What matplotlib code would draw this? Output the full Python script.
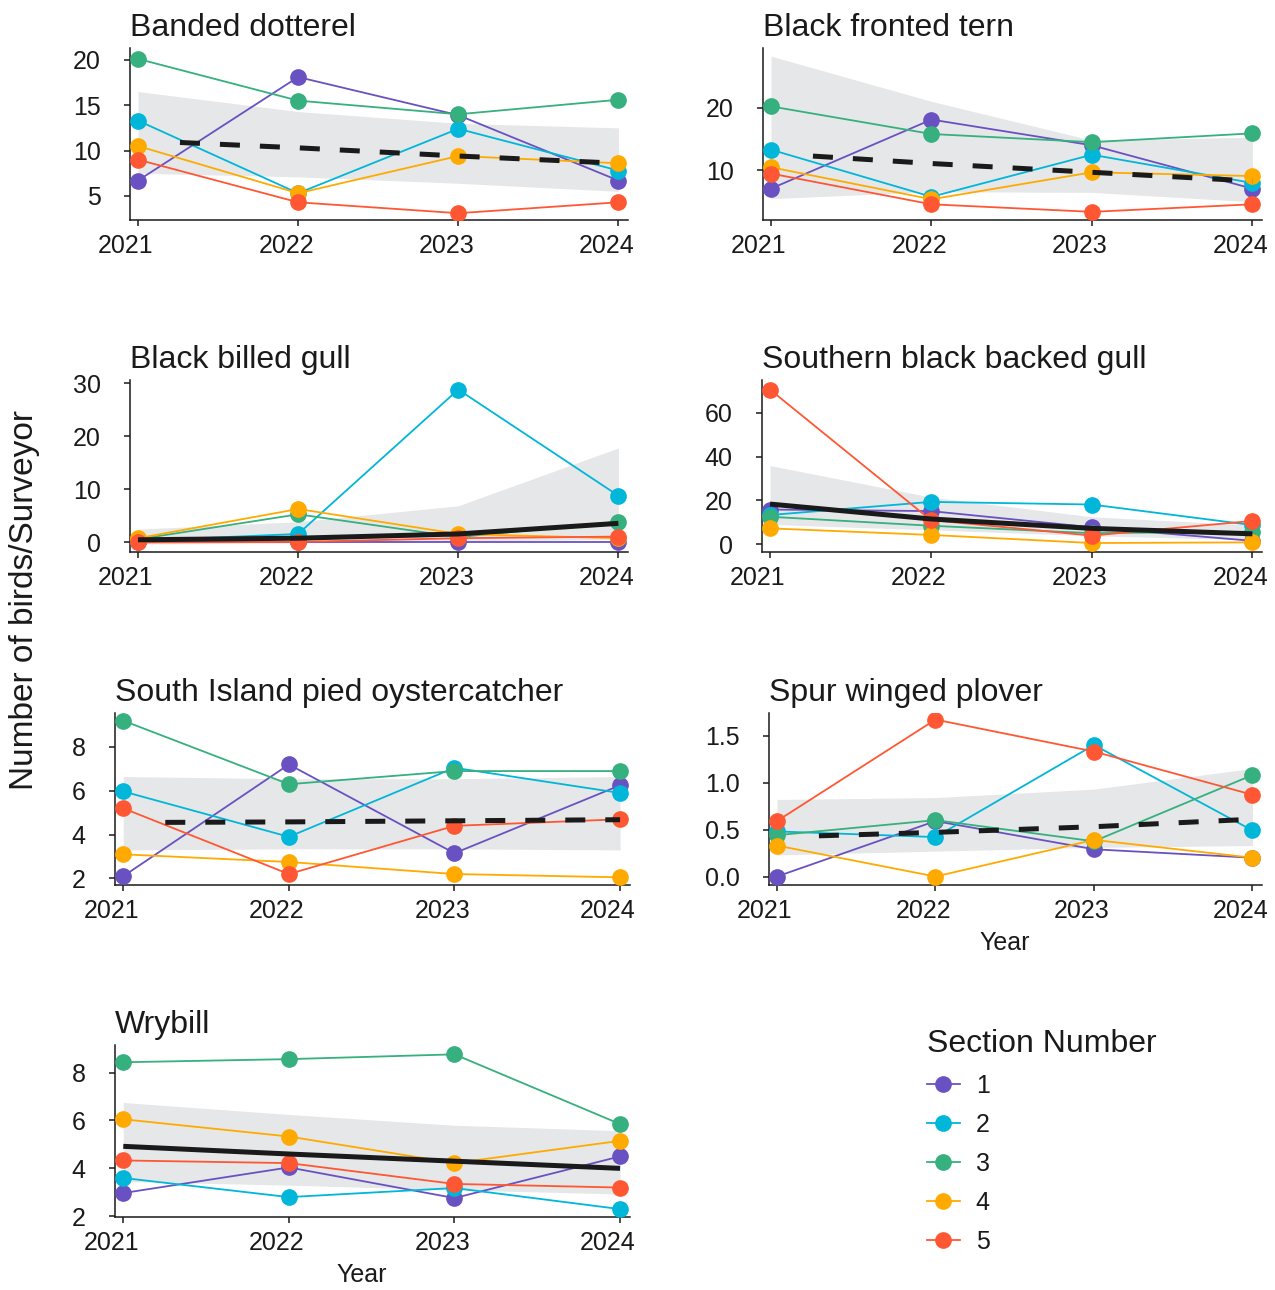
import matplotlib
matplotlib.use("Agg")
import matplotlib.pyplot as plt
from matplotlib.lines import Line2D
from matplotlib.ticker import FixedLocator, FormatStrFormatter
from matplotlib.transforms import ScaledTranslation

plt.rcParams['font.family'] = ['Liberation Sans', 'DejaVu Sans']

years = [2021, 2022, 2023, 2024]
sections = ['1', '2', '3', '4', '5']
section_colors = ['#6A51C1', '#00B6D9', '#35B07E', '#FFAA00', '#FF5733']

# mean birds per surveyor, one row per section (1..5), one value per year
banded_dotterel = [[6.7, 18.1, 13.9, 6.7],
                   [13.3, 5.3, 12.4, 7.8],
                   [20.1, 15.5, 14.0, 15.6],
                   [10.5, 5.3, 9.4, 8.6],
                   [9.0, 4.3, 3.1, 4.3]]
banded_dotterel_fit = [11.1, 10.3, 9.4, 8.6]
banded_dotterel_lo = [7.5, 7.1, 6.4, 5.5]
banded_dotterel_hi = [16.5, 14.3, 13.0, 12.5]

black_fronted_tern = [[7.1, 18.1, 14.0, 7.1],
                      [13.3, 5.8, 12.5, 8.0],
                      [20.2, 15.8, 14.5, 15.9],
                      [10.5, 5.4, 9.7, 9.1],
                      [9.5, 4.6, 3.4, 4.6]]
black_fronted_tern_fit = [12.7, 11.1, 9.7, 8.3]
black_fronted_tern_lo = [5.5, 6.6, 6.5, 5.0]
black_fronted_tern_hi = [28.2, 21.0, 14.8, 15.3]

black_billed_gull = [[0.0, 0.0, 0.0, 0.0],
                     [0.3, 1.6, 28.8, 8.8],
                     [0.6, 5.3, 1.0, 3.9],
                     [0.8, 6.3, 1.6, 0.8],
                     [0.0, 0.1, 0.8, 1.1]]
black_billed_gull_fit = [0.5, 0.8, 1.6, 3.6]
black_billed_gull_lo = [-0.3, -0.1, 0.2, 0.6]
black_billed_gull_hi = [2.5, 3.9, 6.9, 17.8]

sbb_gull = [[15.8, 15.1, 7.7, 1.5],
            [13.3, 19.3, 18.1, 8.7],
            [12.5, 8.4, 5.0, 5.7],
            [7.2, 4.2, 0.5, 0.8],
            [70.6, 11.0, 3.9, 10.6]]
sbb_gull_fit = [18.3, 11.5, 7.2, 4.7]
sbb_gull_lo = [9.0, 6.5, 3.8, 2.0]
sbb_gull_hi = [35.9, 21.5, 12.5, 8.7]

sipo = [[2.1, 7.2, 3.15, 6.25],
        [5.97, 3.9, 7.05, 5.9],
        [9.2, 6.3, 6.9, 6.9],
        [3.1, 2.75, 2.2, 2.05],
        [5.2, 2.2, 4.4, 4.7]]
sipo_fit = [4.55, 4.58, 4.63, 4.68]
sipo_lo = [3.3, 3.35, 3.35, 3.3]
sipo_hi = [6.65, 6.55, 6.55, 6.65]

spur_winged_plover = [[0.0, 0.59, 0.29, 0.2],
                      [0.48, 0.42, 1.4, 0.49],
                      [0.44, 0.6, 0.375, 1.08],
                      [0.33, 0.0, 0.39, 0.2],
                      [0.59, 1.67, 1.33, 0.87]]
spur_winged_plover_fit = [0.42, 0.47, 0.53, 0.61]
spur_winged_plover_lo = [0.23, 0.27, 0.31, 0.33]
spur_winged_plover_hi = [0.82, 0.84, 0.93, 1.15]

wrybill = [[2.97, 4.04, 2.76, 4.5],
           [3.6, 2.8, 3.18, 2.3],
           [8.43, 8.56, 8.76, 5.85],
           [6.05, 5.33, 4.22, 5.15],
           [4.33, 4.22, 3.35, 3.2]]
wrybill_fit = [4.92, 4.6, 4.3, 4.0]
wrybill_lo = [3.45, 3.3, 3.1, 2.93]
wrybill_hi = [6.75, 6.25, 5.8, 5.57]

W, H = 1275, 1290

def px_box(l, t, r, b):
    return [l / W, 1 - b / H, (r - l) / W, (b - t) / H]

def gap_first(on, off, n=16):
    # dash sequence that opens with one whole empty period before the first dash
    seq = [on, off] * n
    seq[-1] = off + on + off
    return (sum(seq) - (on + off + 0.4), seq)

# title, counts, fit, lo, hi, significant trend, yticks, ylim, box, fmt, xlabel
panels = [
    ("Banded dotterel", banded_dotterel, banded_dotterel_fit, banded_dotterel_lo, banded_dotterel_hi,
     False, [5, 10, 15, 20], (2.35, 21.3), (130, 48, 628, 220), '%d', False),
    ("Black fronted tern", black_fronted_tern, black_fronted_tern_fit, black_fronted_tern_lo, black_fronted_tern_hi,
     False, [10, 20], (2.1, 29.5), (763, 48, 1262, 220), '%d', False),
    ("Black billed gull", black_billed_gull, black_billed_gull_fit, black_billed_gull_lo, black_billed_gull_hi,
     True, [0, 10, 20, 30], (-1.8, 30.6), (130, 380, 628, 552), '%d', False),
    ("Southern black backed gull", sbb_gull, sbb_gull_fit, sbb_gull_lo, sbb_gull_hi,
     True, [0, 20, 40, 60], (-3.6, 75), (762, 380, 1262, 552), '%d', False),
    ("South Island pied oystercatcher", sipo, sipo_fit, sipo_lo, sipo_hi,
     False, [2, 4, 6, 8], (1.7, 9.55), (115, 713, 630, 885), '%d', False),
    ("Spur winged plover", spur_winged_plover, spur_winged_plover_fit, spur_winged_plover_lo, spur_winged_plover_hi,
     False, [0.0, 0.5, 1.0, 1.5], (-0.09, 1.74), (769, 713, 1262, 885), '%.1f', True),
    ("Wrybill", wrybill, wrybill_fit, wrybill_lo, wrybill_hi,
     True, [2, 4, 6, 8], (1.97, 9.15), (115, 1045, 630, 1217), '%d', True),
]

ink = '#1A1A1A'
fig = plt.figure(figsize=(W / 100, H / 100), dpi=100)
# year labels sit a little to the left of their ticks
nudge = ScaledTranslation(-12 / 100, 0, fig.dpi_scale_trans)

for title, counts, fit, lo, hi, solid, yticks, ylim, box, fmt, xlab in panels:
    ax = fig.add_axes(px_box(*box))
    ax.fill_between(years, lo, hi, color='#E6E7E8', lw=0, zorder=1)
    for vals, col in zip(counts, section_colors):
        ax.plot(years, vals, color=col, lw=1.3, marker='o', ms=11, zorder=3)
    if solid:
        ax.plot(years, fit, color=ink, lw=3.6, solid_capstyle='butt', zorder=4)
    else:
        ax.plot(years, fit, color=ink, lw=3.6, dash_capstyle='butt',
                linestyle=gap_first(4.0, 4.0), zorder=4)

    ax.set_xlim(2020.95, 2024.06)
    ax.set_ylim(*ylim)
    ax.xaxis.set_major_locator(FixedLocator(years))
    ax.yaxis.set_major_locator(FixedLocator(yticks))
    ax.yaxis.set_major_formatter(FormatStrFormatter(fmt))
    ax.set_title(title, loc='left', fontsize=23, color=ink, pad=9)
    for s in ['top', 'right']:
        ax.spines[s].set_visible(False)
    for s in ['left', 'bottom']:
        ax.spines[s].set_linewidth(1.1)
        ax.spines[s].set_color(ink)
    ax.tick_params(axis='both', labelsize=18, colors=ink, width=1.1, length=4)
    ax.tick_params(axis='x', pad=6)
    ax.tick_params(axis='y', pad=17)
    for tick in ax.xaxis.get_major_ticks():
        tick.label1.set_transform(tick.label1.get_transform() + nudge)
    if xlab:
        ax.set_xlabel("Year", fontsize=18, color=ink, labelpad=6)
        ax.xaxis.label.set_x(0.5 - 11 / (box[2] - box[0]))

fig.text(25 / W, 1 - 600 / H, "Number of birds/Surveyor", rotation=90,
         fontsize=24, color=ink, ha='center', va='center')

handles = [Line2D([0], [0], color=c, lw=1.3, marker='o', ms=11) for c in section_colors]
leg = fig.legend(handles, sections, title="Section Number", loc='upper left',
                 bbox_to_anchor=(927 / W, 1 - 1029 / H), frameon=False,
                 fontsize=18, title_fontsize=23, handlelength=1.3,
                 handletextpad=0.65, labelspacing=0.6, borderpad=0,
                 borderaxespad=0, alignment='left')
for t in leg.get_texts():
    t.set_color(ink)
leg.get_title().set_color(ink)

fig.savefig("out.png", dpi=100)
